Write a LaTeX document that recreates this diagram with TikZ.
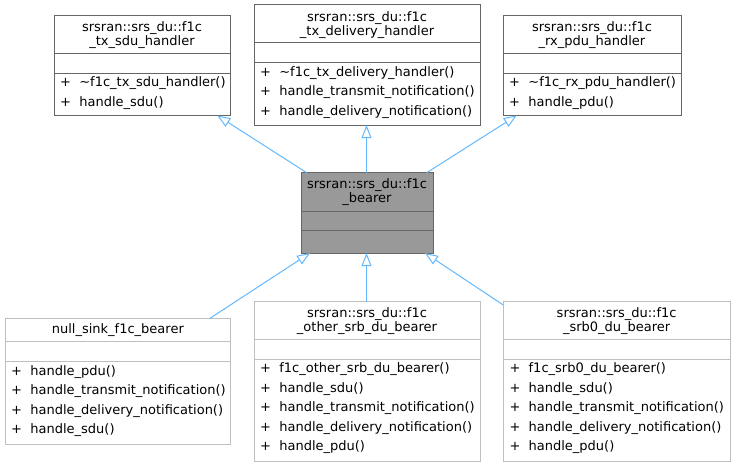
\documentclass[tikz,border=0pt]{standalone}
\usepackage{fontspec}
\setmainfont{DejaVu Sans}
\usetikzlibrary{arrows.meta}

\definecolor{docgray}{HTML}{666666}
\definecolor{undocgray}{HTML}{BFBFBF}
\definecolor{basefill}{HTML}{999999}
\definecolor{inhblue}{HTML}{63B8FF}

\begin{document}
\begin{tikzpicture}[
    x=1pt, y=-1pt,
    cls/.style={draw=docgray, line width=1pt, fill=white, anchor=north west, inner sep=0pt, outer sep=0pt},
    ucls/.style={cls, draw=undocgray},
    sep/.style={line width=1pt},
    clsname/.style={align=center, inner sep=0pt, font=\fontsize{13}{14}\selectfont},
    meth/.style={align=left, anchor=north west, inner sep=0pt, xshift=6pt, yshift=-3.5pt, font=\fontsize{13}{19.5}\selectfont},
    inh/.style={draw=inhblue, line width=1pt, -{Triangle[open, length=13pt, width=10pt, fill=white]}}
]
\useasboundingbox (0,0) rectangle (735,467);

% base classes
\node[cls, minimum width=176pt, minimum height=100.5pt] (txsdu) at (54,15) {};
\draw[sep, docgray] (txsdu.west |- 0,53) -- (txsdu.east |- 0,53) (txsdu.west |- 0,73) -- (txsdu.east |- 0,73);
\node[clsname] (txsdu-n) at (txsdu.north |- 0,35) {srsran::srs\_du::f1c\\\_tx\_sdu\_handler};
\node[meth] (txsdu-m) at (txsdu.west |- 0,73) {+~~\textasciitilde f1c\_tx\_sdu\_handler()\\+~~handle\_sdu()};

\node[cls, minimum width=226pt, minimum height=120.3pt] (txdel) at (254,4.7) {};
\draw[sep, docgray] (txdel.west |- 0,42.7) -- (txdel.east |- 0,42.7) (txdel.west |- 0,62.7) -- (txdel.east |- 0,62.7);
\node[clsname] (txdel-n) at (txdel.north |- 0,24.7) {srsran::srs\_du::f1c\\\_tx\_delivery\_handler};
\node[meth] (txdel-m) at (txdel.west |- 0,62.7) {+~~\textasciitilde f1c\_tx\_delivery\_handler()\\+~~handle\_transmit\_notification()\\+~~handle\_delivery\_notification()};

\node[cls, minimum width=178pt, minimum height=100.5pt] (rxpdu) at (503,15) {};
\draw[sep, docgray] (rxpdu.west |- 0,53) -- (rxpdu.east |- 0,53) (rxpdu.west |- 0,73) -- (rxpdu.east |- 0,73);
\node[clsname] (rxpdu-n) at (rxpdu.north |- 0,35) {srsran::srs\_du::f1c\\\_rx\_pdu\_handler};
\node[meth] (rxpdu-m) at (rxpdu.west |- 0,73) {+~~\textasciitilde f1c\_rx\_pdu\_handler()\\+~~handle\_pdu()};

% the bearer itself
\node[cls, fill=basefill, minimum width=132pt, minimum height=80.3pt] (bearer) at (301,172.7) {};
\draw[sep, docgray] (bearer.west |- 0,211) -- (bearer.east |- 0,211) (bearer.west |- 0,230.7) -- (bearer.east |- 0,230.7);
\node[clsname] (bearer-n) at (bearer.north |- 0,192.3) {srsran::srs\_du::f1c\\\_bearer};

% derived classes
\node[ucls, minimum width=225.7pt, minimum height=125.7pt] (nullsink) at (5,318.3) {};
\draw[sep, undocgray] (nullsink.west |- 0,341.7) -- (nullsink.east |- 0,341.7) (nullsink.west |- 0,361.7) -- (nullsink.east |- 0,361.7);
\node[clsname] (nullsink-n) at (nullsink.north |- 0,330.5) {null\_sink\_f1c\_bearer};
\node[meth] (nullsink-m) at (nullsink.west |- 0,361.7) {+~~handle\_pdu()\\+~~handle\_transmit\_notification()\\+~~handle\_delivery\_notification()\\+~~handle\_sdu()};

\node[ucls, minimum width=226pt, minimum height=160pt] (othersrb) at (254,301.7) {};
\draw[sep, undocgray] (othersrb.west |- 0,339) -- (othersrb.east |- 0,339) (othersrb.west |- 0,359) -- (othersrb.east |- 0,359);
\node[clsname] (othersrb-n) at (othersrb.north |- 0,321) {srsran::srs\_du::f1c\\\_other\_srb\_du\_bearer};
\node[meth] (othersrb-m) at (othersrb.west |- 0,359) {+~~f1c\_other\_srb\_du\_bearer()\\+~~handle\_sdu()\\+~~handle\_transmit\_notification()\\+~~handle\_delivery\_notification()\\+~~handle\_pdu()};

\node[ucls, minimum width=226.7pt, minimum height=160pt] (srbzero) at (503.3,301.7) {};
\draw[sep, undocgray] (srbzero.west |- 0,339) -- (srbzero.east |- 0,339) (srbzero.west |- 0,359) -- (srbzero.east |- 0,359);
\node[clsname] (srbzero-n) at (srbzero.north |- 0,321) {srsran::srs\_du::f1c\\\_srb0\_du\_bearer};
\node[meth] (srbzero-m) at (srbzero.west |- 0,359) {+~~f1c\_srb0\_du\_bearer()\\+~~handle\_sdu()\\+~~handle\_transmit\_notification()\\+~~handle\_delivery\_notification()\\+~~handle\_pdu()};

% inheritance
\draw[inh] ([xshift=5.7pt]bearer.north west) -- ([xshift=-12.7pt]txsdu.south east);
\draw[inh] ([xshift=-0.5pt]bearer.north) -- ([xshift=-0.5pt]txdel.south);
\draw[inh] ([xshift=-6.3pt]bearer.north east) -- ([xshift=13.7pt]rxpdu.south west);
\draw[inh] ([xshift=-20.7pt]nullsink.north east) -- ([xshift=9pt]bearer.south west);
\draw[inh] ([xshift=-0.5pt]othersrb.north) -- ([xshift=-0.5pt]bearer.south);
\draw[inh] ([yshift=-3.3pt]srbzero.north west) -- ([xshift=-8pt]bearer.south east);
\end{tikzpicture}
\end{document}
